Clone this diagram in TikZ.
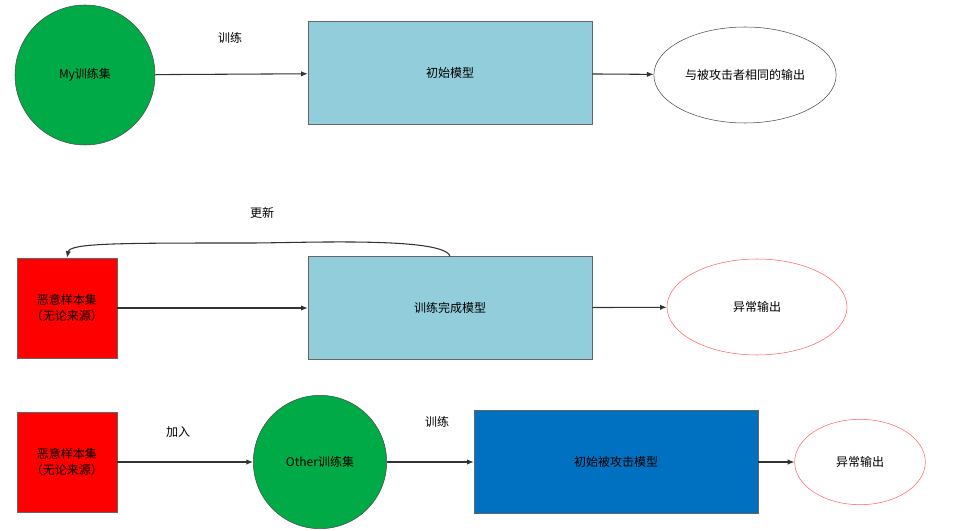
\documentclass[tikz,border=0pt]{standalone}
\usepackage{fontspec}
\setmainfont{Noto Sans CJK SC}
\usetikzlibrary{shapes.geometric, arrows.meta}
\definecolor{modelblue}{RGB}{146,205,220}
\definecolor{targetblue}{RGB}{0,112,192}
\definecolor{setgreen}{RGB}{0,170,70}

\begin{document}
\begin{tikzpicture}[x=0.75pt, y=-0.75pt, font=\fontsize{9}{11.5}\selectfont,
  set/.style={circle, draw=black!70, fill=setgreen, minimum size=#1},
  model/.style={draw=black!60, fill=modelblue, minimum width=213pt, minimum height=77pt},
  bad/.style={draw=black!60, fill=red, minimum size=75pt, align=center},
  out/.style={ellipse, draw=#1, minimum width=135pt, minimum height=72pt},
  arr/.style={-{Latex[length=5pt, width=4pt]}, thick, black!80}]
  \useasboundingbox (0,0) rectangle (960,531);
  % first row
  \node (myset) [set=105pt] at (85,75) {My训练集};
  \node (init) [model] at (450,73) {初始模型};
  \node (same) [out=black!70] at (745,75) {与被攻击者相同的输出};
  \node (l1) at (230,38) {训练};
  \draw[arr] (myset) -- (init);
  \draw[arr] (init) -- (same);
  % second row
  \node (bad1) [bad] at (67,308) {恶意样本集\\（无论来源）};
  \node (done) [model] at (450,308) {训练完成模型};
  \node (err1) [out=red!60] at (757,307) {异常输出};
  \node (l2) at (262,213) {更新};
  \draw[arr] (bad1) -- (done);
  \draw[arr] (done) -- (err1);
  \draw[arr] (done.north) .. controls +(-5,-20) and (300,243) .. (250,243)
    .. controls (120,243) and (70,243) .. (bad1.north);
  % third row
  \node (bad2) [bad] at (67,462) {恶意样本集\\（无论来源）};
  \node (other) [set=100pt] at (320,462) {Other训练集};
  \node (target) [model, fill=targetblue] at (616,462) {初始被攻击模型};
  \node (err2) [out=red!60, minimum width=98pt, minimum height=64pt] at (860,462) {异常输出};
  \node (l3) at (178,432) {加入};
  \node (l4) at (437,422) {训练};
  \draw[arr] (bad2) -- (other);
  \draw[arr] (other) -- (target);
  \draw[arr] (target) -- (err2);
\end{tikzpicture}
\end{document}
